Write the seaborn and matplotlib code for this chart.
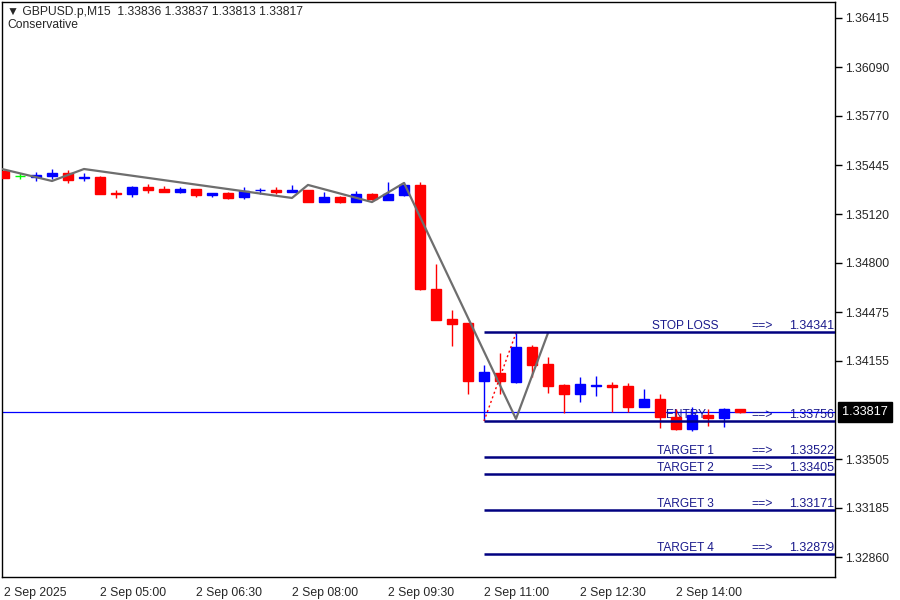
import numpy as np
import pandas as pd
import seaborn as sns
import matplotlib.pyplot as plt
from matplotlib.transforms import blended_transform_factory

# GBPUSD M15 candles, 2 Sep 2025 03:30 .. 15:00
opens = [1.35406, 1.35373, 1.35366, 1.35373, 1.35393, 1.35360, 1.35366, 1.35258,
         1.35254, 1.35300, 1.35287, 1.35267, 1.35287, 1.35248, 1.35261, 1.35234,
         1.35278, 1.35281, 1.35267, 1.35281, 1.35201, 1.35234, 1.35201, 1.35254,
         1.35215, 1.35248, 1.35314, 1.34628, 1.34430, 1.34403, 1.34021, 1.34074,
         1.34014, 1.34245, 1.34133, 1.33995, 1.33935, 1.33985, 1.33995, 1.33988,
         1.33849, 1.33902, 1.33784, 1.33704, 1.33797, 1.33777, 1.33836]
highs = [1.35413, 1.35393, 1.35399, 1.35419, 1.35413, 1.35393, 1.35373, 1.35278,
         1.35307, 1.35317, 1.35307, 1.35300, 1.35287, 1.35261, 1.35267, 1.35300,
         1.35294, 1.35300, 1.35314, 1.35281, 1.35267, 1.35241, 1.35274, 1.35261,
         1.35333, 1.35333, 1.35333, 1.34792, 1.34489, 1.34403, 1.34126, 1.34206,
         1.34337, 1.34258, 1.34179, 1.34001, 1.34047, 1.34054, 1.34014, 1.34008,
         1.33968, 1.33935, 1.33836, 1.33849, 1.33836, 1.33843, 1.33837]
lows = [1.35360, 1.35353, 1.35340, 1.35353, 1.35327, 1.35340, 1.35254, 1.35231,
        1.35234, 1.35258, 1.35267, 1.35261, 1.35234, 1.35234, 1.35221, 1.35221,
        1.35254, 1.35254, 1.35267, 1.35201, 1.35201, 1.35195, 1.35201, 1.35215,
        1.35215, 1.35241, 1.34621, 1.34423, 1.34252, 1.33935, 1.33764, 1.33935,
        1.34008, 1.34047, 1.33942, 1.33810, 1.33882, 1.33922, 1.33817, 1.33817,
        1.33849, 1.33711, 1.33698, 1.33691, 1.33724, 1.33717, 1.33813]
closes = [1.35360, 1.35373, 1.35380, 1.35393, 1.35347, 1.35366, 1.35254, 1.35254,
          1.35300, 1.35281, 1.35267, 1.35287, 1.35248, 1.35261, 1.35228, 1.35274,
          1.35281, 1.35267, 1.35281, 1.35201, 1.35234, 1.35201, 1.35254, 1.35221,
          1.35254, 1.35314, 1.34628, 1.34423, 1.34397, 1.34021, 1.34080, 1.34021,
          1.34245, 1.34126, 1.33988, 1.33935, 1.34001, 1.33995, 1.33981, 1.33849,
          1.33902, 1.33784, 1.33704, 1.33797, 1.33777, 1.33836, 1.33817]

x_labels = ["2 Sep 2025", "2 Sep 05:00", "2 Sep 06:30", "2 Sep 08:00",
            "2 Sep 09:30", "2 Sep 11:00", "2 Sep 12:30", "2 Sep 14:00"]
y_ticks = [1.36415, 1.36090, 1.35770, 1.35445, 1.35120, 1.34800, 1.34475,
           1.34155, 1.33505, 1.33185, 1.32860]

# zigzag indicator
zz_bar = [-1, 3, 5, 18, 19, 23, 25, 32, 34]
zz_price = [1.35441, 1.35340, 1.35419, 1.35228, 1.35314, 1.35201, 1.35327, 1.33771, 1.34337]

# dotted projection
proj_bar = [30, 32]
proj_price = [1.33756, 1.34337]

level_names = ["STOP LOSS", "ENTRY", "TARGET 1", "TARGET 2", "TARGET 3", "TARGET 4"]
level_prices = [1.34341, 1.33756, 1.33522, 1.33405, 1.33171, 1.32879]
level_start = 30

header = "\u25bc GBPUSD.p,M15  1.33836 1.33837 1.33813 1.33817"
mode_name = "Conservative"
last_price = 1.33817

sns.set_style("white")
plt.rcParams['font.family'] = ['Liberation Sans', 'DejaVu Sans']

candles = pd.DataFrame({"open": opens, "high": highs, "low": lows, "close": closes})
candles["bar"] = np.arange(len(candles))
candles["color"] = np.where(candles["close"] > candles["open"], "#0000FF",
                            np.where(candles["close"] < candles["open"], "#FF0000", "#00FF00"))

fig = plt.figure(figsize=(9, 6), dpi=100)
ax = fig.add_axes([2 / 900, 23 / 600, 833 / 900, 575 / 600])

# wicks and bodies
ax.vlines(candles["bar"], candles["low"], candles["high"], colors=candles["color"], lw=1.0, zorder=3)
ax.bar(candles["bar"], candles["close"] - candles["open"], bottom=candles["open"], width=0.62,
       color=candles["color"], edgecolor=candles["color"], lw=1.0, zorder=4)

# current price line
ax.axhline(last_price, color="#0000FF", lw=0.9, zorder=2)

# zigzag
zz = pd.DataFrame({"bar": zz_bar, "price": zz_price})
sns.lineplot(data=zz, x="bar", y="price", estimator=None, sort=False, color="#6E6E6E", lw=1.6, ax=ax, zorder=5)
ax.plot(proj_bar, proj_price, color="#FF0000", lw=1.0, linestyle=(0, (1.5, 2)), zorder=5)

# trade levels
x_end = 52
for name, price in zip(level_names, level_prices):
    ax.plot([level_start, x_end], [price, price], color="#000080", lw=1.8, zorder=6, solid_capstyle="butt")
    ax.text(42.6, price, name, ha="center", va="bottom", fontsize=8.6, color="#1A1A8C", zorder=2)
    ax.text(47.4, price, "==>", ha="center", va="bottom", fontsize=8.8, color="#1A1A8C", zorder=2)
    ax.text(51.9, price, f"{price:.5f}", ha="right", va="bottom", fontsize=9, color="#1A1A8C", zorder=2)

ax.set_xlim(-0.125, 51.94)
ax.set_ylim(1.327281, 1.365205)

ax.set_xticks(np.arange(0, 48, 6))
ax.set_xticklabels(x_labels, ha="left", fontsize=8.8)
ax.yaxis.tick_right()
ax.set_yticks(y_ticks)
ax.set_yticklabels([f"{v:.5f}" for v in y_ticks], fontsize=8.8)
ax.tick_params(axis="both", direction="out", length=5, width=1, color="black", pad=2)
ax.set_xlabel("")
ax.set_ylabel("")
for s in ax.spines.values():
    s.set_color("black")
    s.set_linewidth(1)

trans = blended_transform_factory(ax.transAxes, ax.transData)
ax.text(1.0 + 7 / 833, last_price, f"{last_price:.5f}", transform=trans, ha="left", va="center",
        fontsize=9.2, color="white",
        bbox=dict(boxstyle="square,pad=0.3", facecolor="black", edgecolor="black"), clip_on=False)

fig.text(7 / 900, 1 - 12 / 600, header, ha="left", va="center", fontsize=8.7)
fig.text(7 / 900, 1 - 25 / 600, mode_name, ha="left", va="center", fontsize=8.7)

plt.savefig("out.png", dpi=100)
